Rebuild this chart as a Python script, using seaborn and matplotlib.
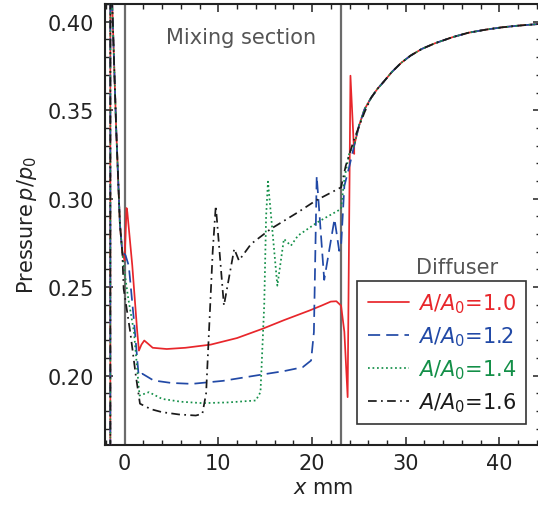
import numpy as np
import pandas as pd
import matplotlib
matplotlib.use("Agg")
import matplotlib.pyplot as plt
import seaborn as sns

# ---- data ----
x_start = [-1.52, -1.52, -1.32, -0.90, -0.50, -0.25]
y_start = [0.10, 0.46, 0.41, 0.340, 0.2857, 0.270]

x_diff = [24.5, 25.0, 25.6, 26.3, 27.0, 27.6, 28.5, 29.5, 30.5, 31.7, 33.1, 35.0, 36.7, 38.5, 40.2, 42.0, 44.4]
y_diff = [0.330, 0.341, 0.3505, 0.357, 0.3622, 0.3658, 0.3715, 0.3767, 0.3808, 0.3846, 0.3878, 0.3913, 0.3938, 0.3955, 0.3968, 0.3978, 0.3988]

x_r10 = [0.0, 0.21, 0.29, 0.82, 1.35, 1.53, 1.8, 2.1, 2.5, 3.0, 4.5, 6.5, 9.2, 12.0, 14.7, 17.0, 19.7, 21.0, 22.0, 22.6, 23.1, 23.45, 23.8, 24.1]
y_r10 = [0.265, 0.2947, 0.2925, 0.2622, 0.2247, 0.2141, 0.2175, 0.2198, 0.2180, 0.2157, 0.2150, 0.2157, 0.2175, 0.2212, 0.2264, 0.2313, 0.2367, 0.2395, 0.2418, 0.2420, 0.2395, 0.2247, 0.1878, 0.3695]
x_r10_end = [24.5]
y_r10_end = [0.3253]

x_r12 = [0.1, 0.45, 1.0, 1.5, 1.9, 3.1, 5.0, 7.2, 10.5, 14.0, 17.0, 19.0, 19.9, 20.2, 20.5, 21.3, 22.4, 22.9, 23.1, 23.45, 24.0]
y_r12 = [0.268, 0.262, 0.231, 0.1999, 0.2010, 0.1972, 0.1958, 0.1953, 0.1970, 0.2000, 0.2025, 0.2047, 0.2085, 0.2245, 0.3128, 0.2541, 0.2885, 0.2705, 0.2733, 0.3072, 0.3186]

x_r14 = [-0.1, 0.4, 1.0, 1.5, 1.6, 2.6, 4.0, 6.0, 8.3, 11.0, 14.0, 14.5, 14.9, 15.1, 15.3, 16.3, 17.0, 17.75, 18.5, 20.6, 23.1, 23.45, 24.0]
y_r14 = [0.262, 0.2433, 0.2247, 0.1942, 0.1887, 0.1906, 0.1868, 0.1852, 0.1844, 0.1848, 0.1859, 0.1906, 0.24, 0.29, 0.3096, 0.2508, 0.2772, 0.2734, 0.2791, 0.2867, 0.2942, 0.3111, 0.3264]

x_r16 = [-0.1, 0.6, 1.2, 1.64, 2.8, 4.0, 5.8, 7.6, 8.3, 8.7, 9.4, 9.73, 10.6, 11.7, 12.2, 13.5, 15.6, 18.5, 20.4, 23.1, 23.6, 24.5, 25.6]
y_r16 = [0.249, 0.2247, 0.1999, 0.1841, 0.1810, 0.1793, 0.1780, 0.1774, 0.1784, 0.19, 0.27, 0.2960, 0.2396, 0.2716, 0.2650, 0.2744, 0.2829, 0.2923, 0.2989, 0.3064, 0.3186, 0.3337, 0.3488]

labels = ["$A/A_0$=1.0", "$A/A_0$=1.2", "$A/A_0$=1.4", "$A/A_0$=1.6"]
colors = ["#e8262b", "#2149a6", "#138f48", "#1a1a1a"]

xs = [x_start + x_r10 + x_r10_end + x_diff,
      x_start + x_r12 + x_diff,
      x_start + x_r14 + x_diff,
      x_start + x_r16 + x_diff[3:]]
ys = [y_start + y_r10 + y_r10_end + y_diff,
      y_start + y_r12 + y_diff,
      y_start + y_r14 + y_diff,
      y_start + y_r16 + y_diff[3:]]

frames = []
for lab, xv, yv in zip(labels, xs, ys):
    frames.append(pd.DataFrame({"x": xv, "p": yv, "case": lab}))
df = pd.concat(frames, ignore_index=True)

# ---- style ----
sns.set_theme(style="ticks")
plt.rcParams["font.family"] = ["DejaVu Sans"]
plt.rcParams["mathtext.fontset"] = "dejavusans"

fig = plt.figure(figsize=(5.38, 5.06), dpi=100)
ax = fig.add_axes([0.195, 0.1195, 0.81, 0.8705])

ax.axvline(0.0, color="#6b6b6b", lw=1.6, zorder=1)
ax.axvline(23.1, color="#6b6b6b", lw=1.6, zorder=1)

dashes = {labels[0]: "", labels[1]: (7, 3.5), labels[2]: (1, 1.6), labels[3]: (5, 2.5, 1, 2.5)}
sns.lineplot(data=df, x="x", y="p", hue="case", style="case", units="case",
             palette=dict(zip(labels, colors)), dashes=dashes, sort=False,
             estimator=None, lw=1.25, ax=ax, zorder=3)

ax.set_xlim(-2.1, 44.4)
ax.set_ylim(0.161, 0.410)
ax.set_xticks([0, 10, 20, 30, 40])
ax.set_yticks([0.20, 0.25, 0.30, 0.35, 0.40])
ax.set_yticklabels(["0.20", "0.25", "0.30", "0.35", "0.40"])
ax.xaxis.set_minor_locator(matplotlib.ticker.MultipleLocator(2))
ax.yaxis.set_minor_locator(matplotlib.ticker.MultipleLocator(0.01))
ax.tick_params(which="both", direction="in", top=True, right=True, colors="#222222", labelcolor="#222222")
ax.tick_params(which="major", length=6, width=1.1, labelsize=15)
ax.tick_params(which="minor", length=3.5, width=1.0)
ax.tick_params(axis="x", pad=6)
ax.tick_params(axis="y", pad=8)
for s in ax.spines.values():
    s.set_linewidth(1.5)
    s.set_color("#222222")
ax.spines["right"].set_visible(False)

ax.set_xlabel("$x$ mm", fontsize=15, color="#222222", labelpad=3)
ax.set_ylabel("Pressure$\\,p/p_0$", fontsize=15, color="#222222", labelpad=6)

ax.text(0.312, 0.925, "Mixing section", transform=ax.transAxes, ha="center", va="center",
        fontsize=15, color="#555555")
ax.text(0.808, 0.402, "Diffuser", transform=ax.transAxes, ha="center", va="center",
        fontsize=15, color="#555555")

leg = ax.legend(loc="lower right", bbox_to_anchor=(0.991, 0.022), fontsize=15,
                frameon=True, fancybox=False, framealpha=1, edgecolor="#333333",
                handlelength=2.0, handletextpad=0.4, labelspacing=0.45, borderpad=0.5)
leg.get_frame().set_linewidth(1.2)
for txt, c in zip(leg.get_texts(), colors):
    txt.set_color(c)

fig.savefig("out.png", dpi=100)
